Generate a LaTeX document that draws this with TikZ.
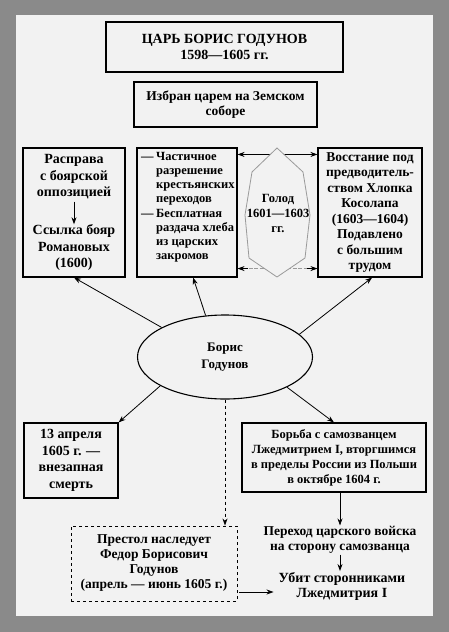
\documentclass[tikz,border=0pt]{standalone}
\usepackage{fontspec}
\setmainfont{Liberation Serif}
\usetikzlibrary{arrows.meta,calc,shapes.geometric}
\definecolor{bggray}{HTML}{8A8A8A}
\definecolor{panel}{HTML}{F2F2F2}
\definecolor{famgray}{HTML}{9A9A9A}
\newcommand{\dsh}{\makebox[15pt][l]{—}}
\newcommand{\ndsh}{\hspace*{15pt}}
\begin{document}
\begin{tikzpicture}[x=1pt,y=-1pt,
  every node/.style={font=\bfseries},
  box/.style={draw,line width=1.1pt,inner sep=0pt,align=center},
  txt/.style={inner sep=1pt,align=center},
  arr/.style={line width=0.8pt,-{Stealth[length=7pt,width=5pt]}},
  darr/.style={line width=0.8pt,{Stealth[length=7pt,width=5pt]}-{Stealth[length=7pt,width=5pt]}}]
\useasboundingbox (0,0) rectangle (449,632);
\fill[bggray] (0,0) rectangle (449,632);
\fill[panel] (16,15) rectangle (433,616);

% title
\node[box,minimum width=237pt,minimum height=50pt,font=\fontsize{14}{15.5}\selectfont\bfseries] (title) at (224.5,47)
  {ЦАРЬ БОРИС ГОДУНОВ\\1598—1605 гг.};
\node[box,minimum width=183pt,minimum height=45pt,font=\fontsize{13.5}{14.5}\selectfont\bfseries] (izbran) at (225.5,104.5)
  {Избран царем на Земском\\соборе};

% three upper boxes
\node[box,minimum width=102pt,minimum height=129pt] (b1) at (74,212.5) {};
\node[txt,font=\fontsize{14}{16.5}\selectfont\bfseries] (t1a) at (74,177) {Расправа\\с боярской\\оппозицией};
\node[txt,font=\fontsize{14}{16.5}\selectfont\bfseries] (t1b) at (74,247.5) {Ссылка бояр\\Романовых\\(1600)};
\draw[arr] ([yshift=-1pt]t1a.south) -- ([yshift=-1pt]t1b.north);

\node[box,minimum width=100pt,minimum height=129pt] (b2) at (187,212.5) {};
\node[txt,align=left,anchor=north west,font=\fontsize{12.5}{14.2}\selectfont\bfseries] (t2) at (140,151)
  {\dsh Частичное\\\ndsh разрешение\\\ndsh крестьянских\\\ndsh переходов\\\dsh Бесплатная\\\ndsh раздача хлеба\\\ndsh из царских\\\ndsh закромов};

\node[box,minimum width=104pt,minimum height=129pt,font=\fontsize{13.5}{15.5}\selectfont\bfseries] (b3) at (370,212.5)
  {Восстание под\\предводитель-\\ством Хлопка\\Косолапа\\(1603—1604)\\Подавлено\\с большим\\трудом};

% famine
\draw[darr] ([yshift=-7pt]b2.north east) -- ([yshift=-7pt]b3.north west);
\coordinate (fl) at ([yshift=9pt]b2.south east);
\coordinate (fr) at ([yshift=9pt]b3.south west);
\draw[famgray,line width=0.8pt,dash pattern=on 4pt off 1.5pt] (fl) -- (fr);
\draw[arr] ([xshift=10pt]fl) -- (fl);
\draw[arr] ([xshift=-10pt]fr) -- (fr);
\filldraw[fill=panel,draw=famgray,line width=0.8pt] (277,148) -- (303,172) -- (310,215) -- (305,258) -- (277,277) -- (249,258) -- (245,215) -- (252,172) -- cycle;
\node[txt,font=\fontsize{12.5}{15}\selectfont\bfseries] (famine) at (278,213) {Голод\\1601—1603\\гг.};

% ellipse
\node[draw,ellipse,line width=1.1pt,minimum width=175pt,minimum height=84pt,inner sep=0pt,align=center,
  font=\fontsize{13}{16.5}\selectfont\bfseries] (ell) at (225,357) {Борис\\Годунов};

\draw[arr] (ell.155) -- (b1.south);
\draw[arr] (ell.115) -- ($(b2.south west)!0.56!(b2.south east)$);
\draw[arr] (ell.17) -- ($(b3.south west)!0.52!(b3.south east)$);

% lower boxes
\node[box,minimum width=94pt,minimum height=75pt,font=\fontsize{14}{16.5}\selectfont\bfseries] (b4) at (71,460.5)
  {13 апреля\\1605 г. —\\внезапная\\смерть};
\node[box,minimum width=184pt,minimum height=69pt,font=\fontsize{12.5}{15}\selectfont\bfseries] (b5) at (334,457.5)
  {Борьба с самозванцем\\Лжедмитрием I, вторгшимся\\в пределы России из Польши\\в октябре 1604 г.};
\draw[arr] (ell.204) -- (b4.north east);
\draw[arr] (ell.334) -- (b5.north);

\node[txt,font=\fontsize{13.5}{14.5}\selectfont\bfseries] (t6) at (340,540) {Переход царского войска\\на сторону самозванца};
\node[txt,font=\fontsize{14}{15.5}\selectfont\bfseries] (t7) at (342,586.5) {Убит сторонниками\\Лжедмитрия I};
\draw[arr] (t6.north |- b5.south) -- (t6.north);
\draw[arr] (t6.south -| t6.north) -- (t6.south |- t7.north);

\node[box,dashed,line width=0.9pt,minimum width=166pt,minimum height=75pt,font=\fontsize{13.5}{15}\selectfont\bfseries] (b6) at (154,563.5)
  {Престол наследует\\Федор Борисович\\Годунов\\(апрель — июнь 1605 г.)};
\draw[arr,dashed] (ell.south) -- (ell.south |- b6.north);
\coordinate (r7) at ([yshift=-5.5pt,xshift=-4pt]t7.west);
\draw[arr] ([xshift=2pt]b6.east |- r7) -- (r7);
\end{tikzpicture}
\end{document}
